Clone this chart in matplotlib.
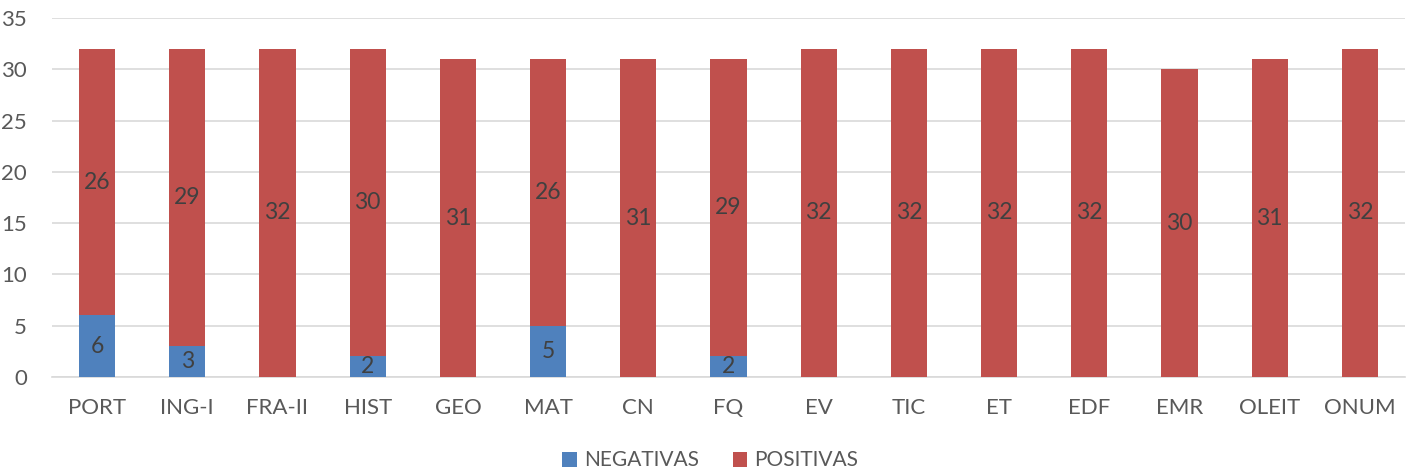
# Notas por disciplina - negativas vs positivas

import matplotlib.pyplot as plt
import numpy as np

plt.rcParams['font.family'] = ['Lato', 'DejaVu Sans']

disciplinas = ['PORT', 'ING-I', 'FRA-II', 'HIST', 'GEO', 'MAT', 'CN', 'FQ',
               'EV', 'TIC', 'ET', 'EDF', 'EMR', 'OLEIT', 'ONUM']
negativas = [6, 3, 0, 2, 0, 5, 0, 2, 0, 0, 0, 0, 0, 0, 0]
positivas = [26, 29, 32, 30, 31, 26, 31, 29, 32, 32, 32, 32, 30, 31, 32]

azul = '#4F81BD'
vermelho = '#C0504D'

fig = plt.figure(figsize=(14.21, 4.75), dpi=100)
ax = fig.add_axes([52 / 1421, 1 - 377 / 475, (1405 - 52) / 1421, (377 - 18) / 475])

x = np.arange(len(disciplinas))
largura = 0.4
ax.bar(x, negativas, width=largura, color=azul, label='NEGATIVAS', zorder=3)
ax.bar(x, positivas, width=largura, bottom=negativas, color=vermelho,
       label='POSITIVAS', zorder=3)

# rotulos no centro de cada segmento
for i in range(len(disciplinas)):
    if negativas[i] > 0:
        ax.text(x[i], negativas[i] / 2, str(negativas[i]), ha='center', va='center',
                fontsize=16.5, color='#404040', zorder=4)
    ax.text(x[i], negativas[i] + positivas[i] / 2, str(positivas[i]), ha='center',
            va='center', fontsize=16.5, color='#404040', zorder=4)

ax.set_xlim(-0.5, len(disciplinas) - 0.5)
ax.set_ylim(0, 35)
ax.set_yticks(range(0, 36, 5))
ax.set_xticks(x)
ax.set_xticklabels(disciplinas)
ax.tick_params(axis='both', length=0, labelsize=16, colors='#595959')
ax.tick_params(axis='x', pad=15)
ax.tick_params(axis='y', pad=18)
ax.yaxis.grid(True, color='#D9D9D9', linewidth=1.2, zorder=0)
for s in ['top', 'right', 'left']:
    ax.spines[s].set_visible(False)
ax.spines['bottom'].set_color('#D9D9D9')
ax.spines['bottom'].set_linewidth(1.2)

fig.legend(loc='lower center', ncol=2, frameon=False, fontsize=15,
           bbox_to_anchor=(0.5, -0.03), handlelength=0.7, handleheight=0.7,
           handletextpad=0.35, columnspacing=1.6, labelcolor='#595959')

plt.savefig('out.png', dpi=100)
